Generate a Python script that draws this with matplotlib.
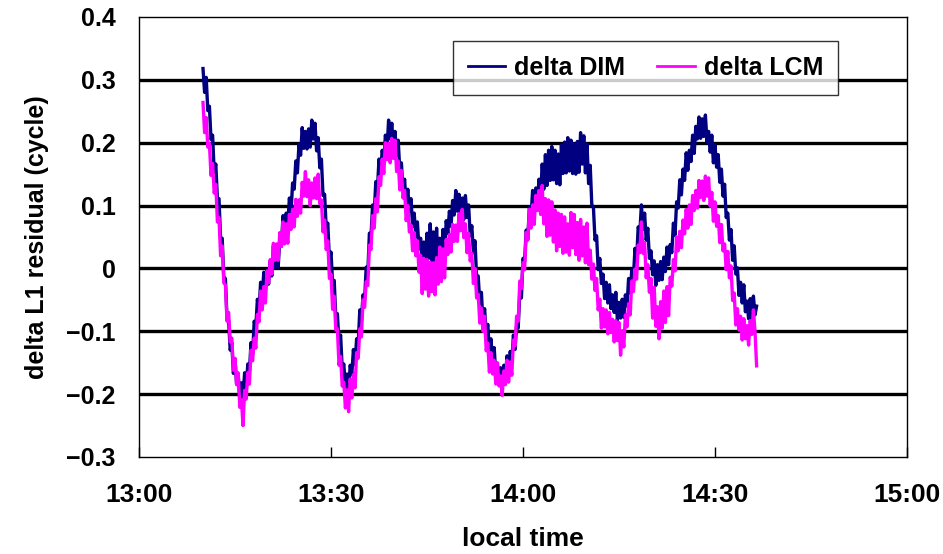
import numpy as np
import matplotlib
matplotlib.use("Agg")
import matplotlib.pyplot as plt

plt.rcParams['font.family'] = ['Liberation Sans', 'DejaVu Sans']
plt.rcParams['font.weight'] = 'bold'

# residuals sampled every 15 s from 13:10:00 to 14:36:30
delta_dim = [
    0.318, 0.280, 0.304, 0.251, 0.258, 0.205, 0.212, 0.153, 0.166, 0.111,
    0.111, 0.047, 0.048, -0.015, -0.016, -0.079, -0.082, -0.130, -0.118, -0.167,
    -0.144, -0.184, -0.169, -0.208, -0.182, -0.205, -0.166, -0.189, -0.152, -0.165,
    -0.118, -0.137, -0.084, -0.094, -0.049, -0.068, -0.022, -0.045, -0.006, -0.034,
    -0.002, -0.025, 0.012, -0.012, 0.036, 0.001, 0.021, 0.002, 0.048, 0.035,
    0.084, 0.056, 0.088, 0.070, 0.112, 0.088, 0.136, 0.126, 0.171, 0.152,
    0.198, 0.180, 0.224, 0.191, 0.218, 0.190, 0.222, 0.193, 0.236, 0.206,
    0.231, 0.187, 0.208, 0.160, 0.174, 0.116, 0.118, 0.065, 0.072, 0.013,
    0.026, -0.024, -0.019, -0.078, -0.072, -0.120, -0.106, -0.159, -0.152, -0.190,
    -0.168, -0.197, -0.154, -0.169, -0.129, -0.153, -0.112, -0.120, -0.066, -0.084,
    -0.042, -0.050, 0.002, -0.007, 0.056, 0.051, 0.101, 0.087, 0.138, 0.125,
    0.174, 0.151, 0.188, 0.170, 0.212, 0.188, 0.236, 0.206, 0.231, 0.192,
    0.218, 0.180, 0.204, 0.156, 0.168, 0.125, 0.142, 0.098, 0.126, 0.091,
    0.111, 0.067, 0.088, 0.050, 0.074, 0.031, 0.048, 0.015, 0.042, 0.008,
    0.056, 0.016, 0.071, 0.012, 0.058, 0.010, 0.064, 0.006, 0.048, 0.005,
    0.062, 0.018, 0.076, 0.056, 0.091, 0.067, 0.108, 0.085, 0.124, 0.091,
    0.118, 0.085, 0.112, 0.078, 0.116, 0.081, 0.101, 0.052, 0.068, 0.025,
    0.044, -0.014, -0.012, -0.055, -0.038, -0.087, -0.064, -0.104, -0.089, -0.133,
    -0.112, -0.150, -0.126, -0.169, -0.152, -0.185, -0.158, -0.192, -0.154, -0.174,
    -0.139, -0.168, -0.132, -0.150, -0.106, -0.129, -0.092, -0.095, -0.038, -0.047,
    0.016, 0.011, 0.061, 0.047, 0.098, 0.080, 0.124, 0.096, 0.128, 0.105,
    0.142, 0.113, 0.166, 0.126, 0.181, 0.132, 0.188, 0.140, 0.194, 0.141,
    0.188, 0.135, 0.182, 0.133, 0.196, 0.151, 0.201, 0.152, 0.208, 0.155,
    0.204, 0.151, 0.198, 0.150, 0.202, 0.153, 0.216, 0.166, 0.211, 0.152,
    0.198, 0.135, 0.164, 0.101, 0.098, 0.045, 0.052, -0.002, 0.016, -0.024,
    -0.009, -0.048, -0.022, -0.055, -0.026, -0.064, -0.042, -0.070, -0.038, -0.082,
    -0.054, -0.079, -0.049, -0.078, -0.042, -0.060, -0.016, -0.039, -0.002, -0.015,
    0.032, 0.013, 0.066, 0.056, 0.101, 0.062, 0.088, 0.045, 0.064, 0.016,
    0.028, -0.010, 0.012, -0.027, 0.006, -0.019, 0.011, -0.018, 0.018, -0.005,
    0.034, 0.006, 0.038, 0.025, 0.072, 0.053, 0.106, 0.096, 0.141, 0.117,
    0.158, 0.140, 0.184, 0.156, 0.188, 0.170, 0.212, 0.183, 0.226, 0.206,
    0.241, 0.207, 0.238, 0.210, 0.244, 0.201, 0.218, 0.185, 0.212, 0.168,
    0.196, 0.161, 0.181, 0.137, 0.158, 0.115, 0.134, 0.081, 0.088, 0.045,
    0.062, 0.013, 0.036, -0.009, 0.001, -0.043, -0.022, -0.055, -0.026, -0.069,
    -0.052, -0.080, -0.048, -0.082, -0.044, -0.074, -0.060,
]

delta_lcm = [
    0.264, 0.216, 0.240, 0.193, 0.199, 0.148, 0.167, 0.120, 0.134, 0.074,
    0.081, 0.020, 0.036, -0.023, -0.026, -0.084, -0.070, -0.117, -0.111, -0.162,
    -0.143, -0.185, -0.166, -0.221, -0.209, -0.250, -0.194, -0.208, -0.166, -0.184,
    -0.130, -0.147, -0.111, -0.127, -0.073, -0.085, -0.036, -0.066, -0.029, -0.055,
    -0.004, -0.023, 0.014, -0.009, 0.040, 0.013, 0.039, 0.013, 0.057, 0.035,
    0.074, 0.039, 0.071, 0.040, 0.086, 0.062, 0.094, 0.066, 0.110, 0.083,
    0.109, 0.088, 0.137, 0.115, 0.154, 0.114, 0.141, 0.100, 0.136, 0.112,
    0.144, 0.111, 0.150, 0.103, 0.109, 0.058, 0.077, 0.030, 0.044, -0.016,
    -0.009, -0.065, -0.044, -0.098, -0.096, -0.154, -0.140, -0.187, -0.181, -0.222,
    -0.193, -0.228, -0.176, -0.206, -0.169, -0.190, -0.134, -0.143, -0.096, -0.109,
    -0.050, -0.062, -0.021, -0.027, 0.037, 0.030, 0.084, 0.064, 0.111, 0.090,
    0.146, 0.132, 0.174, 0.151, 0.200, 0.173, 0.199, 0.168, 0.207, 0.175,
    0.204, 0.154, 0.171, 0.125, 0.156, 0.112, 0.124, 0.076, 0.100, 0.058,
    0.069, 0.028, 0.057, 0.020, 0.044, -0.006, 0.021, -0.040, 0.016, -0.033,
    0.014, -0.044, 0.010, -0.037, 0.009, -0.042, 0.017, -0.025, 0.034, -0.021,
    0.031, -0.015, 0.046, 0.022, 0.054, 0.026, 0.070, 0.043, 0.069, 0.043,
    0.087, 0.060, 0.094, 0.049, 0.071, 0.025, 0.056, 0.012, 0.024, -0.024,
    0.000, -0.047, -0.041, -0.087, -0.063, -0.100, -0.076, -0.131, -0.119, -0.165,
    -0.134, -0.168, -0.146, -0.184, -0.150, -0.187, -0.171, -0.202, -0.163, -0.185,
    -0.146, -0.181, -0.149, -0.170, -0.114, -0.123, -0.076, -0.084, -0.020, -0.032,
    0.009, -0.002, 0.057, 0.045, 0.094, 0.064, 0.101, 0.070, 0.116, 0.092,
    0.124, 0.086, 0.132, 0.071, 0.111, 0.051, 0.109, 0.053, 0.106, 0.042,
    0.093, 0.028, 0.088, 0.035, 0.086, 0.024, 0.082, 0.026, 0.071, 0.021,
    0.089, 0.033, 0.086, 0.022, 0.073, 0.013, 0.078, 0.020, 0.066, 0.009,
    0.072, 0.006, 0.029, -0.017, 0.007, -0.035, -0.016, -0.066, -0.049, -0.095,
    -0.064, -0.093, -0.066, -0.104, -0.070, -0.102, -0.081, -0.117, -0.083, -0.115,
    -0.086, -0.138, -0.099, -0.125, -0.074, -0.093, -0.056, -0.074, -0.020, -0.037,
    -0.001, -0.017, 0.037, 0.025, 0.074, 0.024, 0.041, -0.015, 0.006, -0.038,
    -0.016, -0.079, -0.030, -0.092, -0.061, -0.112, -0.053, -0.095, -0.036, -0.086,
    -0.029, -0.075, -0.014, -0.028, 0.014, -0.004, 0.050, 0.028, 0.059, 0.033,
    0.077, 0.055, 0.094, 0.064, 0.101, 0.070, 0.116, 0.092, 0.124, 0.096,
    0.140, 0.113, 0.139, 0.108, 0.147, 0.115, 0.144, 0.099, 0.121, 0.075,
    0.106, 0.067, 0.084, 0.041, 0.070, 0.028, 0.039, -0.002, 0.027, -0.015,
    0.004, -0.051, -0.039, -0.090, -0.064, -0.098, -0.076, -0.114, -0.080, -0.112,
    -0.091, -0.122, -0.083, -0.105, -0.066, -0.100, -0.155,
]

# minutes after 13:00 for each sample
minutes = 10.0 + 0.25 * np.arange(len(delta_dim))

x_ticks = [0, 30, 60, 90, 120]
x_tick_labels = ["13:00", "13:30", "14:00", "14:30", "15:00"]
y_ticks = [-0.3, -0.2, -0.1, 0.0, 0.1, 0.2, 0.3, 0.4]
y_tick_labels = ["\u22120.3", "\u22120.2", "\u22120.1", "0", "0.1", "0.2", "0.3", "0.4"]
grid_levels = [-0.2, -0.1, 0.0, 0.1, 0.2, 0.3]

fig = plt.figure(figsize=(9.43, 5.54), dpi=100)
ax = fig.add_axes([139 / 943, 97 / 554, 768 / 943, 440 / 554])

ax.hlines(grid_levels, x_ticks[0], x_ticks[-1], colors="black", linewidth=2.4, zorder=1)

ax.plot(minutes, delta_dim, color="#000080", linewidth=2.4, label="delta DIM", zorder=2)
ax.plot(minutes, delta_lcm, color="#FF00FF", linewidth=2.4, label="delta LCM", zorder=3)

ax.set_xlim(x_ticks[0], x_ticks[-1])
ax.set_ylim(y_ticks[0], y_ticks[-1])
ax.set_xticks(x_ticks)
ax.set_xticklabels(x_tick_labels)
ax.set_yticks(y_ticks)
ax.set_yticklabels(y_tick_labels)

ax.tick_params(axis="x", direction="in", length=7, width=1, pad=19, labelsize=19)
ax.tick_params(axis="y", length=0, pad=17, labelsize=18)
for lab in ax.get_xticklabels() + ax.get_yticklabels():
    lab.set_fontweight("bold")

for spine in ax.spines.values():
    spine.set_linewidth(1.0)
    spine.set_color("black")

ax.set_xlabel("local time", fontsize=19, fontweight="bold", labelpad=14)
ax.set_ylabel("delta L1 residual (cycle)", fontsize=18, fontweight="bold", labelpad=12)

leg = ax.legend(loc="upper right", bbox_to_anchor=(0.91, 0.945), ncol=2,
                frameon=True, fancybox=False, shadow=False, borderaxespad=0,
                handlelength=1.5, handletextpad=0.35, columnspacing=1.3,
                prop={"size": 18, "weight": "bold"}, borderpad=0.6)
leg.get_frame().set_edgecolor("black")
leg.get_frame().set_linewidth(1.0)
for line in leg.get_lines():
    line.set_linewidth(2.0)

fig.savefig("out.png", dpi=100)
